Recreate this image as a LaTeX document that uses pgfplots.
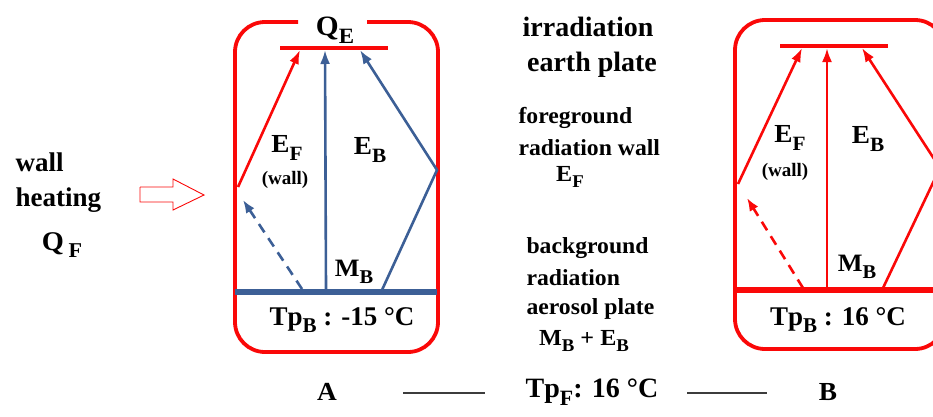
\documentclass[border=0pt]{standalone}
\usepackage{pgfplots}
\pgfplotsset{compat=1.18}
\usetikzlibrary{arrows.meta}
\usepackage{fontspec}
\setmainfont{Liberation Serif}
\definecolor{myred}{RGB}{250,8,8}
\definecolor{myblue}{RGB}{60,95,150}
\definecolor{mygray}{RGB}{60,60,60}
\newcommand\sub[1]{\raisebox{-0.28em}{\scalebox{0.78}{#1}}}
\newcommand\T[3]{\scalebox{#2}[1]{\fontsize{#1}{#1}\bfseries\selectfont #3}}
\begin{document}
\begin{tikzpicture}
\begin{axis}[
  scale only axis, width=933pt, height=416pt,
  xmin=0, xmax=933, ymin=0, ymax=416, y dir=reverse,
  axis lines=none, clip=true,
  every node/.append style={inner sep=0pt},
]
% ---------- Box A ----------
\addplot[myred, line width=3.8pt, rounded corners=30pt] coordinates {(298,22) (235,22) (235,352) (438,352) (438,22) (367,22)};
\addplot[myred, line width=4pt] coordinates {(280,48) (388,48)};
\addplot[myblue, line width=6pt] coordinates {(235,292) (437,292)};
\addplot[myred, line width=2.6pt, -{Latex[length=14pt,width=10pt]}] coordinates {(238,187) (300,50)};
\addplot[myblue, line width=2.6pt, -{Latex[length=14pt,width=10pt]}] coordinates {(326,289) (325,50)};
\addplot[myblue, line width=2.6pt, -{Latex[length=14pt,width=10pt]}] coordinates {(382,290) (437,170) (360,50)};
\addplot[myblue, line width=2.6pt, dashed, dash pattern=on 10pt off 7pt, -{Latex[length=13pt,width=10pt]}] coordinates {(302,289) (243,200)};
% ---------- Box B ----------
\addplot[myred, line width=3.8pt, rounded corners=30pt] coordinates {(830,20) (945,20) (945,349) (735,349) (735,20) (830,20)};
\addplot[myred, line width=4pt] coordinates {(780,46) (888,46)};
\addplot[myred, line width=6pt] coordinates {(735,290) (933,290)};
\addplot[myred, line width=2.6pt, -{Latex[length=14pt,width=10pt]}] coordinates {(738,184) (802,48)};
\addplot[myred, line width=2.6pt, -{Latex[length=14pt,width=10pt]}] coordinates {(827,288) (827,48)};
\addplot[myred, line width=2.6pt, -{Latex[length=14pt,width=10pt]}] coordinates {(883,288) (940,168) (862,48)};
\addplot[myred, line width=2.6pt, dashed, dash pattern=on 10pt off 7pt, -{Latex[length=13pt,width=10pt]}] coordinates {(803,288) (747,198)};
% ---------- hollow arrow ----------
\addplot[myred, line width=0.9pt] coordinates {(140,187) (173,187) (173,179) (204,195) (173,210) (173,202) (140,202) (140,187)};
% ---------- bottom lines ----------
\addplot[mygray, line width=1.6pt] coordinates {(403,393) (485,393)};
\addplot[mygray, line width=1.6pt] coordinates {(687,393) (767,393)};

% ---------- texts ----------
\node at (axis cs:335,30) {\T{28}{1.05}{Q\sub{E}}};
\node at (axis cs:287,148) {\T{26}{1.05}{E\sub{F}}};
\node at (axis cs:285,180) {\T{19}{1.0}{(wall)}};
\node at (axis cs:370,150) {\T{26}{1.05}{E\sub{B}}};
\node at (axis cs:354,272) {\T{25}{1.05}{M\sub{B}}};
\node at (axis cs:342,320) {\T{27}{1.0}{Tp\sub{B} : -15 °C}};
\node at (axis cs:327,392) {\T{26}{1.05}{A}};

\node at (axis cs:790,138) {\T{26}{1.05}{E\sub{F}}};
\node at (axis cs:785,172) {\T{19}{1.0}{(wall)}};
\node at (axis cs:868,139) {\T{26}{1.05}{E\sub{B}}};
\node at (axis cs:857,267) {\T{25}{1.05}{M\sub{B}}};
\node at (axis cs:838,320) {\T{27}{1.0}{Tp\sub{B} : 16 °C}};
\node at (axis cs:828,392) {\T{26}{1.05}{B}};

\node[anchor=west] at (axis cs:12,162) {\T{27}{1.0}{wall}};
\node[anchor=west] at (axis cs:12,200) {\T{27}{1.0}{heating}};
\node at (axis cs:62,245) {\T{27}{1.05}{Q\,\sub{F}}};

\node at (axis cs:588,27) {\T{28}{1.0}{irradiation}};
\node at (axis cs:592,65) {\T{28}{1.0}{earth plate}};
\node[anchor=west] at (axis cs:515,118) {\T{23}{1.03}{foreground}};
\node[anchor=west] at (axis cs:515,148) {\T{23}{1.03}{radiation wall}};
\node at (axis cs:570,177) {\T{23}{1.05}{E\sub{F}}};
\node[anchor=west] at (axis cs:523,248) {\T{23}{1.03}{background}};
\node[anchor=west] at (axis cs:523,278) {\T{23}{1.03}{radiation}};
\node[anchor=west] at (axis cs:523,309) {\T{23}{1.03}{aerosol plate}};
\node at (axis cs:584,341) {\T{23}{1.05}{M\sub{B} + E\sub{B}}};
\node at (axis cs:592,392) {\T{28}{1.0}{Tp\sub{F}: 16 °C}};
\end{axis}
\pgfresetboundingbox
\useasboundingbox (0,0) rectangle (933pt,416pt);
\end{tikzpicture}
\end{document}
